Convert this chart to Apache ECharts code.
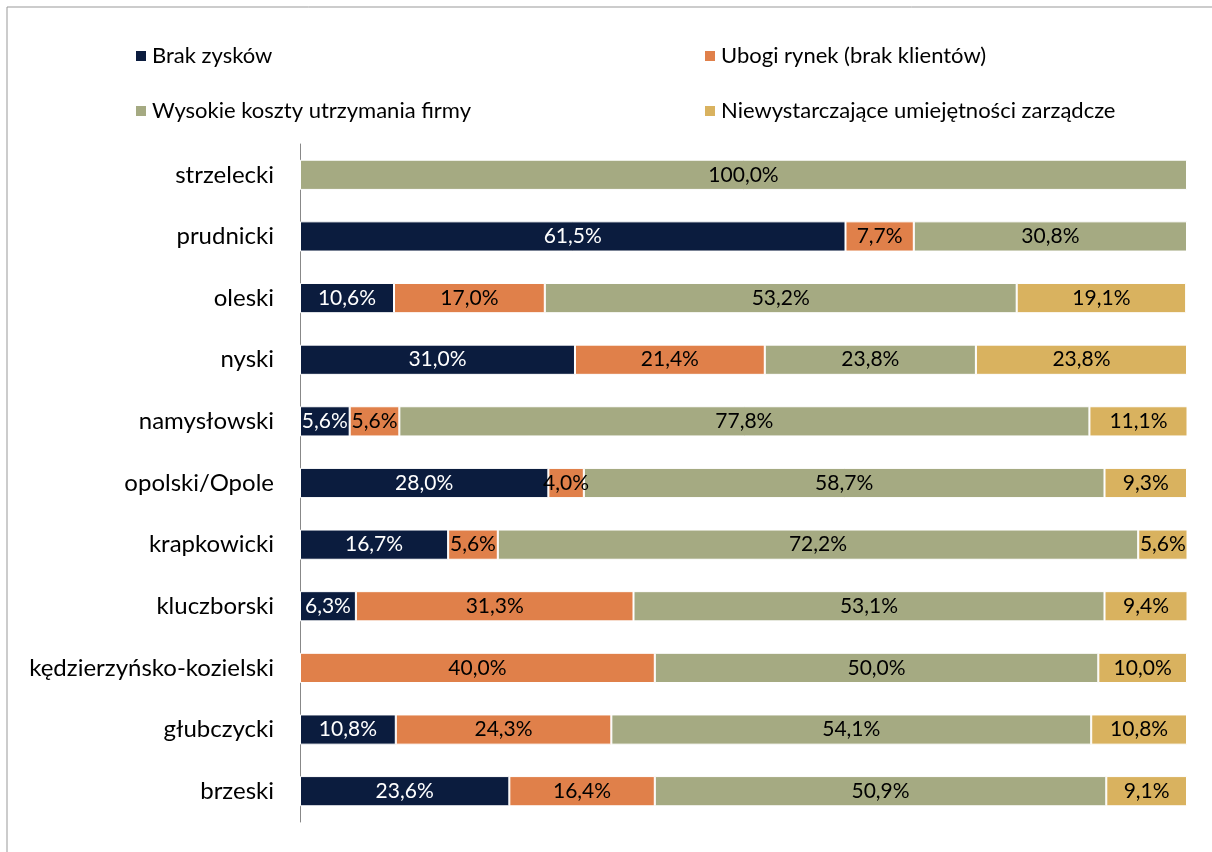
<!DOCTYPE html>
<html lang="pl">
    <head>
        <meta charset="UTF-8" />
        <script type="text/javascript" src="https://cdn.jsdelivr.net/npm/echarts@6/dist/echarts.min.js"></script>
        <title>Przyczyny</title>
        <style type="text/css">
            html, body { margin: 0; padding: 0; background: #fff; }
            #chart { width: 1212px; height: 852px; }
        </style>
    </head>
    <body>
        <div id="chart"></div>
        <script type="text/javascript">
            const categories = [
                "strzelecki", "prudnicki", "oleski", "nyski", "namysłowski",
                "opolski/Opole", "krapkowicki", "kluczborski",
                "kędzierzyńsko-kozielski", "głubczycki", "brzeski"
            ];
            const brakZyskow = [0, 61.5, 10.6, 31.0, 5.6, 28.0, 16.7, 6.3, 0, 10.8, 23.6];
            const ubogiRynek = [0, 7.7, 17.0, 21.4, 5.6, 4.0, 5.6, 31.3, 40.0, 24.3, 16.4];
            const wysokieKoszty = [100.0, 30.8, 53.2, 23.8, 77.8, 58.7, 72.2, 53.1, 50.0, 54.1, 50.9];
            const niewystarczajace = [0, 0, 19.1, 23.8, 11.1, 9.3, 5.6, 9.4, 10.0, 10.8, 9.1];

            const names = [
                "Brak zysków",
                "Ubogi rynek (brak klientów)",
                "Wysokie koszty utrzymania firmy",
                "Niewystarczające umiejętności zarządcze"
            ];
            const colors = ["#0b1c3e", "#e0804a", "#a5aa82", "#d9b25f"];
            const font = "Lato, 'Open Sans', sans-serif";

            function fmt(p) {
                return p.value.toFixed(1).replace(".", ",") + "%";
            }

            function mkSeries(name, values, color, labelColor) {
                return {
                    name: name,
                    type: "bar",
                    stack: "total",
                    barWidth: "49%",
                    itemStyle: { color: color, borderColor: "#fff", borderWidth: 1 },
                    label: {
                        show: true,
                        position: "inside",
                        formatter: fmt,
                        color: labelColor,
                        fontSize: 21,
                        fontFamily: font
                    },
                    data: values.map((v) => (v > 0 ? v : null))
                };
            }

            const chart = echarts.init(document.getElementById("chart"));
            const legendText = { fontSize: 22, fontFamily: font, color: "#000" };
            chart.setOption({
                animation: false,
                color: colors,
                graphic: [{
                    type: "rect",
                    shape: { x: 7, y: 7, width: 1400, height: 1000 },
                    style: { fill: "none", stroke: "#999", lineWidth: 1 },
                    silent: true
                }],
                legend: [
                    {
                        data: [names[0], names[2]],
                        orient: "vertical",
                        left: 134,
                        top: 45,
                        padding: 0,
                        icon: "rect",
                        itemWidth: 12,
                        itemHeight: 12,
                        itemGap: 33,
                        textStyle: legendText
                    },
                    {
                        data: [names[1], names[3]],
                        orient: "vertical",
                        left: 703,
                        top: 45,
                        padding: 0,
                        icon: "rect",
                        itemWidth: 12,
                        itemHeight: 12,
                        itemGap: 33,
                        textStyle: legendText
                    }
                ],
                grid: { left: 300, right: 25, top: 144, bottom: 30, containLabel: false },
                xAxis: {
                    type: "value",
                    min: 0,
                    max: 100,
                    show: false
                },
                yAxis: {
                    type: "category",
                    inverse: true,
                    data: categories,
                    axisLine: { lineStyle: { color: "#888" } },
                    axisTick: { show: false },
                    axisLabel: { color: "#000", fontSize: 24, fontFamily: font, margin: 26 }
                },
                series: [
                    mkSeries(names[0], brakZyskow, colors[0], "#fff"),
                    mkSeries(names[1], ubogiRynek, colors[1], "#000"),
                    mkSeries(names[2], wysokieKoszty, colors[2], "#000"),
                    mkSeries(names[3], niewystarczajace, colors[3], "#000")
                ]
            });
        </script>
    </body>
</html>
